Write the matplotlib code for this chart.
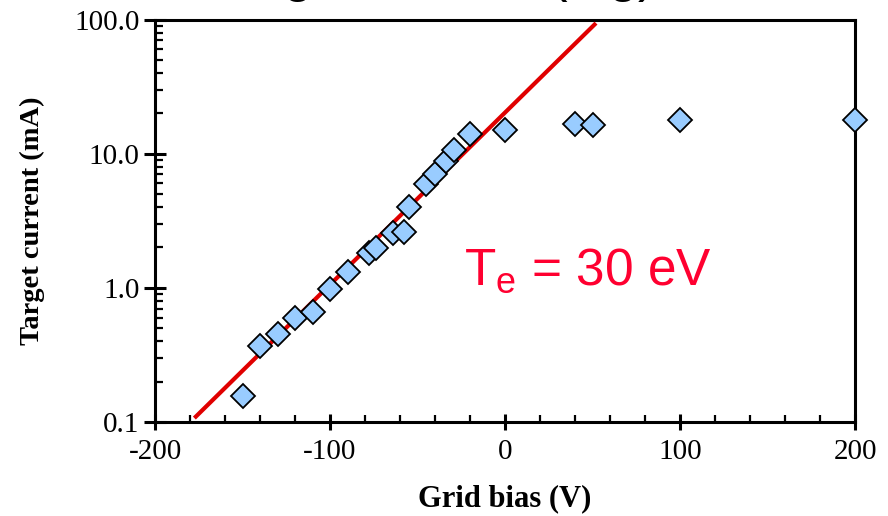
import matplotlib
matplotlib.use("Agg")
import matplotlib.pyplot as plt
from matplotlib.ticker import FixedLocator, MultipleLocator, LogLocator, FuncFormatter, NullFormatter

# Target current vs grid bias
grid_bias = [-150, -140, -130, -120, -110, -100, -90, -78, -74, -64, -58, -55,
             -45, -40, -34, -29, -20, 0, 40, 50, 100, 200]
target_current = [0.155, 0.37, 0.45, 0.60, 0.66, 0.98, 1.31, 1.83, 1.98, 2.55, 2.6, 4.0,
                  5.9, 7.0, 8.8, 10.7, 14.0, 15.0, 16.6, 16.4, 17.8, 17.8]

# exponential fit (straight line on log axis), end points
fit_bias = [-177.5, 52]
fit_current = [0.107, 94]

y_ticks = [0.1, 1, 10, 100]
x_ticks = [-200, -100, 0, 100, 200]

serif = "Liberation Serif"
sans = "Liberation Sans"

fig = plt.figure(figsize=(8.88, 5.16), dpi=100)
ax = fig.add_axes([155 / 888, 1 - 422 / 516, 700 / 888, 402.5 / 516])

ax.plot(fit_bias, fit_current, color="#e00000", lw=3, zorder=3, solid_capstyle="butt")
ax.plot(grid_bias, target_current, ls="none", marker="D", ms=12.5,
        mfc="#99ccff", mec="black", mew=1.3, zorder=4, clip_on=False)

ax.set_yscale("log")
ax.set_xlim(-200, 200)
ax.set_ylim(0.1, 100)

ax.xaxis.set_major_locator(FixedLocator(x_ticks))
ax.xaxis.set_minor_locator(MultipleLocator(20))
ax.yaxis.set_major_locator(FixedLocator(y_ticks))
ax.yaxis.set_minor_locator(LogLocator(base=10, subs=range(2, 10)))
ax.yaxis.set_major_formatter(FuncFormatter(lambda v, p: f"{v:.1f}"))
ax.yaxis.set_minor_formatter(NullFormatter())
ax.xaxis.set_major_formatter(FuncFormatter(lambda v, p: f"{v:.0f}"))

for s in ax.spines.values():
    s.set_linewidth(2.2)

ax.tick_params(axis="x", which="major", direction="inout", length=12, width=2.2,
               pad=6, labelsize=21, top=False)
ax.tick_params(axis="x", which="minor", direction="in", length=5, width=1.6, top=False)
ax.tick_params(axis="y", which="major", direction="inout", length=16, width=2.2,
               pad=3, labelsize=21, right=False)
ax.tick_params(axis="y", which="minor", direction="in", length=6, width=1.6, right=False)
for lab in ax.get_xticklabels() + ax.get_yticklabels():
    lab.set_fontfamily(serif)

ax.set_xlabel("Grid bias (V)", fontfamily=serif, fontweight="bold", fontsize=22, labelpad=14)
ax.set_ylabel("Target current (mA)", fontfamily=serif, fontweight="bold", fontsize=20.5, labelpad=21)

ax.text(-23.4, 1.05, r"$\mathregular{T_e}$ = 30 eV", color="#ff0030", fontsize=37,
        fontfamily=sans, ha="left", va="baseline", zorder=5)

# title mostly cut off at the top edge, only descenders show
fig.text(210 / 888, 1 + 9 / 516, "Target current (log)", fontfamily=sans, fontsize=38,
         ha="left", va="baseline")

fig.savefig("out.png", dpi=100)
